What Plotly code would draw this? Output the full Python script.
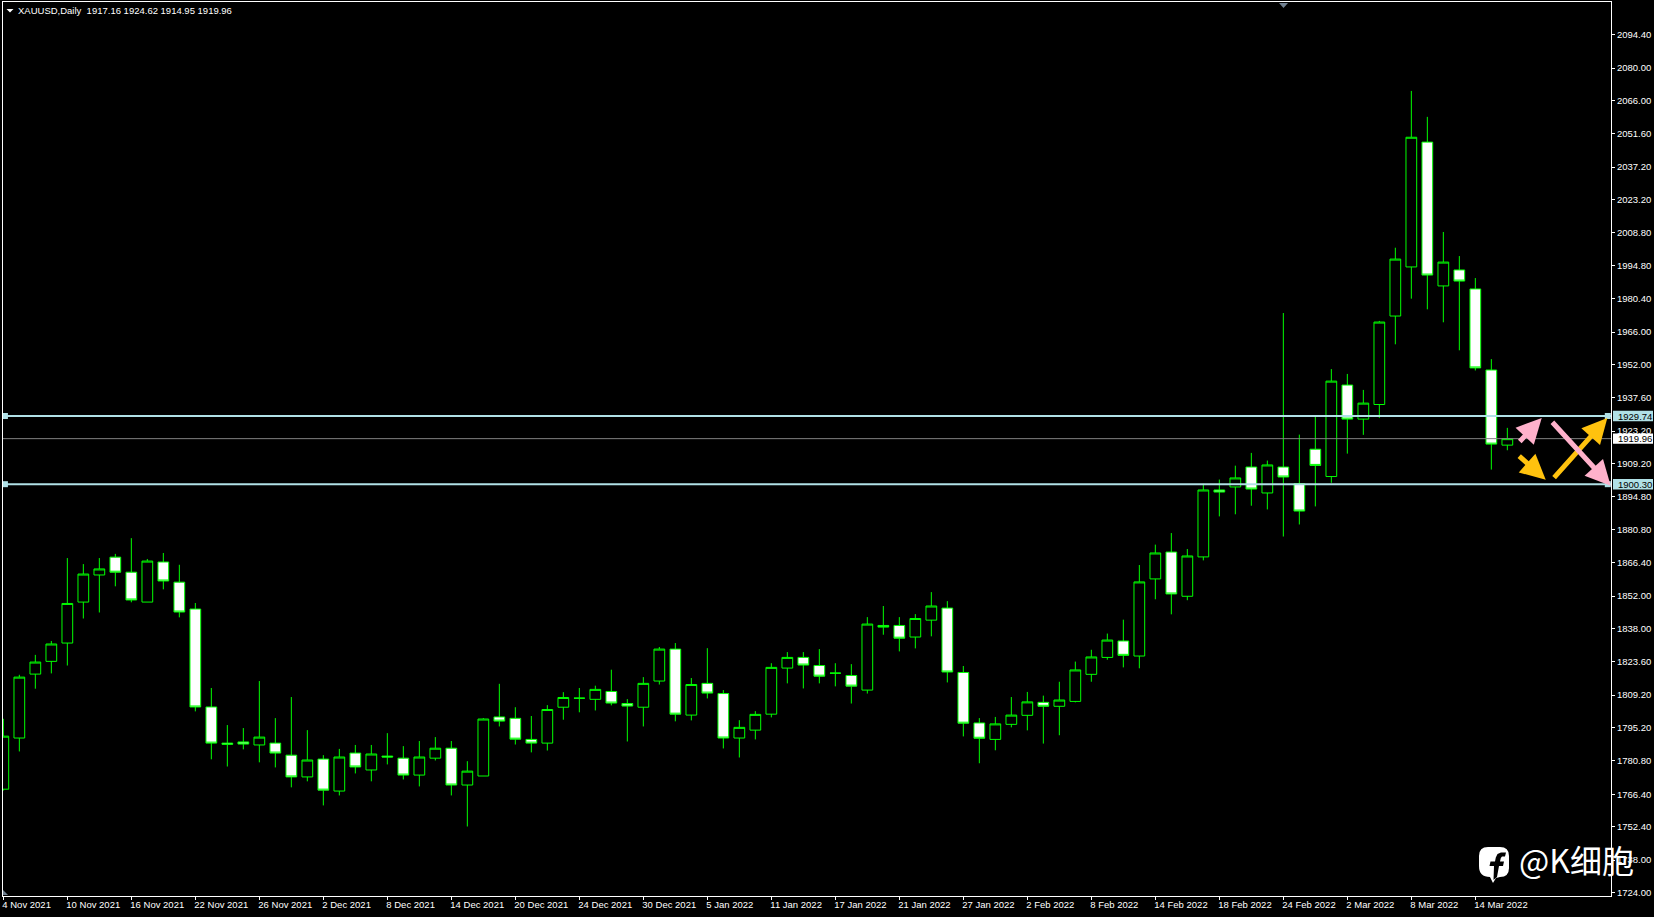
import plotly.graph_objects as go

W, H = 1654, 917
L, R, T, B = 3, 1611, 2, 896

opens = [1768.6,1790.7,1818.3,1823.8,1831.7,1849.4,1861.1,1868.8,1862.3,1849.4,1866.7,1858.0,1846.4,1804.1,1788.5,1789.0,1787.7,1788.5,1783.3,1773.9,
         1781.6,1767.8,1784.2,1776.9,1782.9,1782.0,1774.7,1782.0,1786.3,1770.4,1774.3,1799.8,1799.2,1790.1,1788.5,1804.0,1807.9,1807.4,1810.8,1805.6,
         1804.0,1815.3,1829.1,1800.6,1814.3,1809.9,1790.7,1794.1,1801.0,1820.9,1825.5,1822.0,1818.7,1817.7,1811.4,1839.3,1839.3,1834.3,1841.6,1846.8,
         1819.0,1797.2,1790.1,1796.6,1800.5,1806.1,1804.4,1806.5,1818.2,1825.5,1832.6,1826.1,1859.4,1871.0,1851.9,1868.9,1897.8,1899.1,1907.7,1896.5,
         1907.7,1900.5,1915.4,1903.6,1943.1,1928.4,1934.7,1972.9,1994.1,2048.0,1985.9,1992.8,1984.6,1949.6,1917.16]
highs = [1799.0,1818.0,1826.6,1832.6,1868.4,1865.8,1868.4,1870.2,1877.0,1868.0,1870.6,1865.5,1849.0,1812.3,1796.3,1795.0,1815.3,1799.3,1808.4,1794.1,
         1783.3,1786.0,1787.7,1787.7,1792.8,1787.2,1789.4,1791.1,1789.4,1780.7,1799.3,1814.1,1804.0,1800.2,1804.9,1810.5,1812.3,1813.3,1820.2,1807.5,
         1817.0,1830.0,1831.7,1816.6,1829.5,1811.4,1798.4,1802.3,1823.0,1827.8,1827.8,1829.1,1823.0,1822.6,1842.9,1847.7,1842.9,1844.2,1853.7,1849.8,
         1821.8,1799.3,1799.8,1808.4,1810.6,1809.0,1815.0,1823.7,1828.8,1835.8,1841.8,1865.4,1874.2,1879.2,1872.3,1900.5,1902.3,1908.3,1913.8,1910.5,
         1974.2,1921.7,1929.6,1950.0,1947.9,1941.0,1970.8,2002.4,2070.1,2058.9,2009.2,1998.8,1989.3,1954.3,1924.62]
lows = [1768.0,1784.9,1812.0,1818.6,1822.0,1842.3,1844.9,1856.2,1849.3,1849.4,1854.9,1842.8,1802.2,1781.5,1778.4,1785.8,1780.2,1778.0,1769.4,1772.0,
        1761.6,1765.9,1775.4,1772.0,1779.3,1772.8,1769.8,1781.0,1765.9,1752.5,1774.3,1795.7,1787.9,1784.5,1785.3,1798.6,1801.8,1802.6,1804.8,1789.2,
        1795.7,1813.8,1797.9,1798.3,1807.8,1786.2,1782.3,1790.1,1799.6,1814.3,1812.1,1814.3,1813.0,1805.6,1809.9,1835.3,1828.1,1829.4,1834.6,1814.7,
        1791.4,1779.8,1785.4,1795.3,1794.0,1788.3,1791.9,1806.1,1815.0,1824.5,1821.2,1820.8,1850.6,1844.1,1850.2,1867.4,1886.4,1887.3,1891.0,1889.4,
        1877.7,1882.9,1890.7,1900.9,1913.5,1921.6,1928.9,1960.7,1980.4,1975.8,1970.2,1958.1,1949.4,1906.6,1914.95]
closes = [1791.5,1817.0,1823.5,1831.3,1848.8,1861.5,1863.7,1862.3,1850.3,1867.1,1858.5,1845.1,1804.1,1788.5,1788.0,1788.1,1791.1,1784.2,1773.9,1781.2,
          1768.2,1782.5,1778.2,1783.8,1782.5,1774.7,1782.5,1786.3,1770.4,1776.4,1798.9,1798.0,1790.2,1788.5,1803.0,1808.2,1807.9,1811.7,1805.8,1804.5,
          1814.3,1829.1,1801.0,1813.8,1810.1,1790.7,1795.3,1800.9,1821.2,1825.5,1822.2,1817.4,1818.7,1813.1,1839.9,1838.6,1833.8,1842.3,1847.7,1819.2,
          1797.1,1790.6,1796.8,1800.6,1806.3,1804.4,1807.1,1820.1,1825.7,1833.0,1826.4,1858.1,1870.6,1852.9,1869.3,1897.8,1896.9,1903.0,1898.2,1908.6,
          1903.4,1888.7,1908.4,1944.8,1928.4,1935.3,1970.3,1997.5,2050.1,1990.6,1996.2,1988.0,1950.5,1917.6,1919.96]

date_tick_index = list(range(0, 95, 4))
date_tick_labels = ["4 Nov 2021","10 Nov 2021","16 Nov 2021","22 Nov 2021","26 Nov 2021","2 Dec 2021","8 Dec 2021","14 Dec 2021",
                    "20 Dec 2021","24 Dec 2021","30 Dec 2021","5 Jan 2022","11 Jan 2022","17 Jan 2022","21 Jan 2022","27 Jan 2022",
                    "2 Feb 2022","8 Feb 2022","14 Feb 2022","18 Feb 2022","24 Feb 2022","2 Mar 2022","8 Mar 2022","14 Mar 2022"]
price_ticks = [2094.40,2080.00,2066.00,2051.60,2037.20,2023.20,2008.80,1994.80,1980.40,1966.00,1952.00,1937.60,1923.20,1909.20,
               1894.80,1880.80,1866.40,1852.00,1838.00,1823.60,1809.20,1795.20,1780.80,1766.40,1752.40,1738.00,1724.00]
levels = [1929.74, 1900.30]
last_price = 1919.96
header = "XAUUSD,Daily\u00a0\u00a01917.16 1924.62 1914.95 1919.96"

# arrows: (tail bar, tail price, tip bar, tip price, colour)
arrows = [
    (94.69, 1918.1, 96.15, 1928.9, "#FFB1CB"),
    (94.65, 1913.0, 96.40, 1902.2, "#FFC20E"),
    (96.84, 1902.5, 100.25, 1928.9, "#FFC20E"),
    (96.73, 1927.7, 100.46, 1899.6, "#FFB1CB"),
]

GREEN = "#00FF00"
BLUE = "#B0E0E6"
FONT = "Liberation Sans"
FS = 9.5

x_range = [(L - 3.33) / 16, (R - 3.33) / 16]
def price_at(py):
    return 1929.74 - (py - 416.0) / 2.316
y_range = [price_at(B), price_at(T)]

def PX(px):
    return (px - L) / (R - L)
def PY(py):
    return (B - py) / (B - T)
def path(points):
    return "M " + " L ".join(f"{PX(a):.5f},{PY(b):.5f}" for a, b in points) + " Z"

fig = go.Figure()
fig.add_trace(go.Candlestick(
    x=list(range(len(opens))), open=opens, high=highs, low=lows, close=closes,
    increasing=dict(line=dict(color=GREEN, width=1), fillcolor="#000000"),
    decreasing=dict(line=dict(color=GREEN, width=1), fillcolor="#FFFFFF"),
    whiskerwidth=0, hoverinfo="skip", showlegend=False))
fig.add_trace(go.Scatter(
    x=[x_range[0] + 0.12, x_range[0] + 0.12, x_range[1] - 0.2, x_range[1] - 0.2],
    y=[levels[0], levels[1], levels[0], levels[1]], mode="markers",
    marker=dict(symbol="square", size=6, color=BLUE), hoverinfo="skip", showlegend=False))

shapes = []
for lv in levels:
    shapes.append(dict(type="line", xref="paper", yref="y", x0=0, x1=1, y0=lv, y1=lv,
                       line=dict(color=BLUE, width=2), layer="above"))
shapes.append(dict(type="line", xref="paper", yref="y", x0=0, x1=1, y0=last_price, y1=last_price,
                   line=dict(color="#808080", width=1), layer="above"))
# price labels
annos = []
for lv, bg in [(levels[0], BLUE), (levels[1], BLUE), (last_price, "#FFFFFF")]:
    shapes.append(dict(type="rect", xref="paper", yref="y", x0=PX(1613), x1=PX(1653),
                       y0=lv - 5.2 / 2.316, y1=lv + 5.2 / 2.316, fillcolor=bg, line=dict(width=0), layer="above"))
    annos.append(dict(xref="paper", yref="y", x=PX(1617), y=lv, text=f"{lv:.2f}", showarrow=False,
                      xanchor="left", yanchor="middle", font=dict(family=FONT, size=FS, color="#000000"),
                      borderpad=0))
# corner markers
shapes.append(dict(type="path", xref="paper", yref="paper", path=path([(1279, 3), (1288, 3), (1283.5, 8)]),
                   fillcolor="#708090", line=dict(width=0)))
shapes.append(dict(type="path", xref="paper", yref="paper", path=path([(3, 890), (8, 895), (3, 895)]),
                   fillcolor="#708090", line=dict(width=0)))
shapes.append(dict(type="path", xref="paper", yref="paper", path=path([(6.5, 9), (13.5, 9), (10, 12.5)]),
                   fillcolor="#FFFFFF", line=dict(width=0)))
# watermark icon
r = 9
icon = (f"M {PX(1479+r):.5f},{PY(847):.5f} L {PX(1509-r):.5f},{PY(847):.5f} "
        f"Q {PX(1509):.5f},{PY(847):.5f} {PX(1509):.5f},{PY(847+r):.5f} "
        f"L {PX(1509):.5f},{PY(868):.5f} Q {PX(1509):.5f},{PY(877):.5f} {PX(1500):.5f},{PY(877):.5f} "
        f"L {PX(1496):.5f},{PY(878):.5f} L {PX(1493):.5f},{PY(883):.5f} L {PX(1490):.5f},{PY(877):.5f} "
        f"Q {PX(1479):.5f},{PY(877):.5f} {PX(1479):.5f},{PY(866):.5f} L {PX(1479):.5f},{PY(847+r):.5f} "
        f"Q {PX(1479):.5f},{PY(847):.5f} {PX(1479+r):.5f},{PY(847):.5f} Z")
shapes.append(dict(type="path", xref="paper", yref="paper", path=icon, fillcolor="#FFFFFF", line=dict(width=0)))
f_glyph = [(1493.5, 880), (1497, 877), (1499, 866), (1503, 866), (1504, 861.5), (1500, 861.5), (1500.8, 858),
           (1502, 856.5), (1505, 856.5), (1506, 852.5), (1501, 852.5), (1497.5, 854), (1495.8, 857.5), (1495, 861.5),
           (1490.5, 861.5), (1489.5, 866), (1494, 866)]
shapes.append(dict(type="path", xref="paper", yref="paper", path=path(f_glyph), fillcolor="#000000", line=dict(width=0)))

annos.append(dict(xref="paper", yref="paper", x=PX(15.5), y=PY(10), text=header, showarrow=False, xanchor="left",
                  yanchor="middle", font=dict(family=FONT, size=FS, color="#FFFFFF")))
annos.append(dict(xref="paper", yref="paper", x=PX(1517), y=PY(859), text="@K细胞", showarrow=False, xanchor="left",
                  yanchor="middle", font=dict(family="Noto Sans CJK SC", size=32, color="#FFFFFF")))
for x0, y0, x1, y1, c in arrows:
    annos.append(dict(x=x1, y=y1, ax=x0, ay=y0, xref="x", yref="y", axref="x", ayref="y", text="", showarrow=True,
                      arrowhead=2, arrowsize=1.0, arrowwidth=5, arrowcolor=c, standoff=0))

fig.update_layout(
    width=W, height=H, autosize=False, paper_bgcolor="#000000", plot_bgcolor="#000000",
    margin=dict(l=L, r=W - R, t=T, b=H - B, pad=0), boxgap=0.33, boxgroupgap=0, showlegend=False,
    shapes=shapes, annotations=annos,
    xaxis=dict(range=x_range, tickmode="array", tickvals=date_tick_index, ticktext=date_tick_labels,
               rangeslider=dict(visible=False), showgrid=False, zeroline=False, showline=True, mirror=True,
               linecolor="#FFFFFF", linewidth=1, ticks="outside", ticklen=3, tickcolor="#FFFFFF",
               ticklabelposition="outside right", ticklabelshift=-2,
               tickfont=dict(family=FONT, size=FS, color="#FFFFFF")),
    yaxis=dict(range=y_range, side="right", tickmode="array", tickvals=price_ticks,
               ticktext=[f"{p:.2f}" for p in price_ticks], showgrid=False, zeroline=False, showline=True, mirror=True,
               linecolor="#FFFFFF", linewidth=1, ticks="outside", ticklen=3, tickcolor="#FFFFFF",
               tickfont=dict(family=FONT, size=FS, color="#FFFFFF")),
)
fig.write_html("out.html", config=dict(displayModeBar=False),
               post_script="document.body.style.margin='0';document.body.style.background='#000';")
